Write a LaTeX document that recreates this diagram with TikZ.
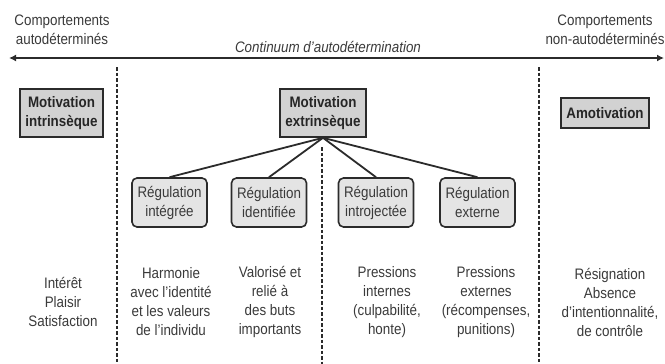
\documentclass[tikz,border=0pt]{standalone}
\usepackage{fontspec}
\setmainfont[FakeStretch=0.88]{Liberation Sans}
\usetikzlibrary{arrows.meta}
\definecolor{ink}{HTML}{2B2B2B}
\definecolor{txt}{HTML}{3A3A3A}
\definecolor{boxfill}{HTML}{D2D2D2}
\definecolor{regfill}{HTML}{E4E4E4}
\begin{document}
\begin{tikzpicture}[x=1pt,y=-1pt,
  every node/.style={font=\fontsize{15.2}{19}\selectfont, text=txt, align=center, inner sep=0pt},
  motbox/.style={draw=ink, line width=1.6pt, fill=boxfill,
    font=\fontsize{15.2}{19}\selectfont\bfseries, text=black!85, minimum height=48pt},
  regbox/.style={draw=ink, line width=1.6pt, fill=regfill, rounded corners=5pt,
    minimum width=75pt, minimum height=49pt},
  divider/.style={draw=ink, line width=1.6pt, dash pattern=on 3.5pt off 2pt},
  branch/.style={draw=ink, line width=1.8pt},
]
\useasboundingbox (0,0) rectangle (665,364);

% continuum axis
\coordinate (aL) at (9,58);
\coordinate (aR) at (664,58);
\draw[ink, line width=2.4pt, {Latex[length=7pt,width=7pt]}-{Latex[length=7pt,width=7pt]}] (aL) -- (aR);
\node (left) at (62,30) {Comportements\\autodéterminés};
\node (right) at (605,30) {Comportements\\non-autodéterminés};
\node[font=\fontsize{15.2}{19}\selectfont\itshape] (cont) at (328,46.5) {Continuum d'autodétermination};

% column separators
\coordinate (d1t) at (117,67);  \coordinate (d1b) at (117,364);
\coordinate (d2t) at (322,147); \coordinate (d2b) at (322,364);
\coordinate (d3t) at (539,67);  \coordinate (d3b) at (539,364);
\draw[divider] (d1t) -- (d1b);
\draw[divider] (d2t) -- (d2b);
\draw[divider] (d3t) -- (d3b);

% motivation types
\node[motbox, minimum width=83pt] (intr) at (61.5,113) {Motivation\\intrinsèque};
\node[motbox, minimum width=86pt] (extr) at (323,113) {Motivation\\extrinsèque};
\node[motbox, minimum width=88pt, minimum height=30pt] (amot) at (605,113) {Amotivation};

% regulation styles
\node[regbox] (reg1) at (169.5,202.5) {Régulation\\intégrée};
\node[regbox] (reg2) at (269,202.5) {Régulation\\identifiée};
\node[regbox] (reg3) at (376,202.5) {Régulation\\introjectée};
\node[regbox] (reg4) at (477.5,202.5) {Régulation\\externe};
\draw[branch] (extr.south) -- (reg1.north);
\draw[branch] (extr.south) -- (reg2.north);
\draw[branch] (extr.south) -- (reg3.north);
\draw[branch] (extr.south) -- (reg4.north);

% descriptions
\node (t0) at (63,302) {Intérêt\\Plaisir\\Satisfaction};
\node (t1) at (171,302) {Harmonie\\avec l'identité\\et les valeurs\\de l'individu};
\node (t2) at (270,302) {Valorisé et\\relié à\\des buts\\importants};
\node (t3) at (387,302) {Pressions\\internes\\(culpabilité,\\honte)};
\node (t4) at (486,302) {Pressions\\externes\\(récompenses,\\punitions)};
\node (t5) at (610,302) {Résignation\\Absence\\d'intentionnalité,\\de contrôle};
\end{tikzpicture}
\end{document}
